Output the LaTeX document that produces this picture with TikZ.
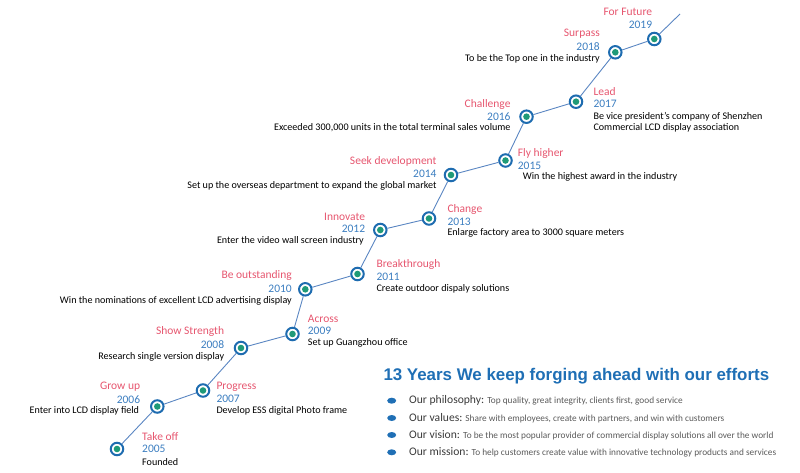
\documentclass[tikz,border=0pt]{standalone}
\usepackage{fontspec}
\setmainfont{Carlito}
\newfontfamily\arialfont{Liberation Sans}
\definecolor{ringblue}{HTML}{1E6CB0}
\definecolor{dotgreen}{HTML}{1F9A78}
\definecolor{linecol}{HTML}{5A86C2}
\definecolor{ttlcol}{HTML}{E6566F}
\definecolor{yrcol}{HTML}{3C7EC0}
\definecolor{headblue}{HTML}{1F6FB5}
\definecolor{labgray}{HTML}{3A3A3A}
\definecolor{dscgray}{HTML}{5A5A5A}
\tikzset{
  dot/.style={circle, draw=ringblue, line width=2pt, fill=white, minimum size=12.5pt, inner sep=0pt,
    path picture={\fill[dotgreen] (path picture bounding box.center) circle (3.3pt);}},
  ttl/.style={inner sep=0pt, text=ttlcol, font=\fontsize{11.5}{12}\selectfont},
  yr/.style={inner sep=0pt, text=yrcol, font=\fontsize{11.5}{12}\selectfont},
  dsc/.style={inner sep=0pt, text=black, font=\fontsize{10.1}{11}\selectfont},
  tline/.style={draw=linecol, line width=0.9pt},
  bullet/.style={ellipse, fill=headblue, minimum width=9pt, minimum height=6pt, inner sep=0pt},
  valline/.style={inner sep=0pt, anchor=west}
}
\usetikzlibrary{shapes.geometric}
\begin{document}
\begin{tikzpicture}[x=1pt,y=-1pt]
\useasboundingbox (0,0) rectangle (800,473);
% nodes
\node[dot] (n05) at (117,449) {};
\node[dot] (n06) at (157.3,406.5) {};
\node[dot] (n07) at (203,390.5) {};
\node[dot] (n08) at (241,348) {};
\node[dot] (n09) at (292.5,334) {};
\node[dot] (n10) at (305.3,289.3) {};
\node[dot] (n11) at (357.5,274) {};
\node[dot] (n12) at (380.3,230) {};
\node[dot] (n13) at (429,218.5) {};
\node[dot] (n14) at (451,175) {};
\node[dot] (n15) at (505.5,160.5) {};
\node[dot] (n16) at (526.5,116.7) {};
\node[dot] (n17) at (576,101.7) {};
\node[dot] (n18) at (615.3,52.3) {};
\node[dot] (n19) at (654.3,39) {};
\coordinate (tend) at (680,14);
\draw[tline] (n05) -- (n06);
\draw[tline] (n06) -- (n07);
\draw[tline] (n07) -- (n08);
\draw[tline] (n08) -- (n09);
\draw[tline] (n09) -- (n10);
\draw[tline] (n10) -- (n11);
\draw[tline] (n11) -- (n12);
\draw[tline] (n12) -- (n13);
\draw[tline] (n13) -- (n14);
\draw[tline] (n14) -- (n15);
\draw[tline] (n15) -- (n16);
\draw[tline] (n16) -- (n17);
\draw[tline] (n17) -- (n18);
\draw[tline] (n18) -- (n19);
\draw[tline] (n19) -- (tend);
% right-side labels
\node[ttl,anchor=west] (t05) at (142,436.7) {Take off};
\node[yr,anchor=west] (y05) at (142,449.3) {2005};
\node[dsc,anchor=west] (d05) at (142,462) {Founded};
\node[ttl,anchor=west] (t07) at (216.3,386.3) {Progress};
\node[yr,anchor=west] (y07) at (216.3,399) {2007};
\node[dsc,anchor=west] (d07) at (216.3,411) {Develop ESS digital Photo frame};
\node[ttl,anchor=west] (t09) at (307.7,318.7) {Across};
\node[yr,anchor=west] (y09) at (307.7,330.7) {2009};
\node[dsc,anchor=west] (d09) at (307.7,343.3) {Set up Guangzhou office};
\node[ttl,anchor=west] (t11) at (376.3,264.3) {Breakthrough};
\node[yr,anchor=west] (y11) at (376.3,277.3) {2011};
\node[dsc,anchor=west] (d11) at (376.3,289.3) {Create outdoor dispaly solutions};
\node[ttl,anchor=west] (t13) at (447.3,209) {Change};
\node[yr,anchor=west] (y13) at (447.3,221.7) {2013};
\node[dsc,anchor=west] (d13) at (447.3,233.3) {Enlarge factory area to 3000 square meters};
\node[ttl,anchor=west] (t15) at (517.7,153.3) {Fly higher};
\node[yr,anchor=west] (y15) at (517.7,166) {2015};
\node[dsc,anchor=west] (d15) at (522.7,176.7) {Win the highest award in the industry};
\node[ttl,anchor=west] (t17) at (593.3,91.7) {Lead};
\node[yr,anchor=west] (y17) at (593.3,104.3) {2017};
\node[dsc,anchor=west] (d17a) at (593.3,116.7) {Be vice president’s company of Shenzhen};
\node[dsc,anchor=west] (d17b) at (593.3,128.3) {Commercial LCD display association};
% left-side labels
\node[ttl,anchor=east] (t06) at (140.3,387) {Grow up};
\node[yr,anchor=east] (y06) at (140.3,400) {2006};
\node[dsc,anchor=east] (d06) at (139.3,411) {Enter into LCD display field};
\node[ttl,anchor=east] (t08) at (224.3,331.7) {Show Strength};
\node[yr,anchor=east] (y08) at (224.3,345) {2008};
\node[dsc,anchor=east] (d08) at (224.3,356.7) {Research single version display};
\node[ttl,anchor=east] (t10) at (292,275.7) {Be outstanding};
\node[yr,anchor=east] (y10) at (292,289.3) {2010};
\node[dsc,anchor=east] (d10) at (292,301.3) {Win the nominations of excellent LCD advertising display};
\node[ttl,anchor=east] (t12) at (365.3,217.3) {Innovate};
\node[yr,anchor=east] (y12) at (365.3,229.3) {2012};
\node[dsc,anchor=east] (d12) at (364,241) {Enter the video wall screen industry};
\node[ttl,anchor=east] (t14) at (436.7,161.3) {Seek development};
\node[yr,anchor=east] (y14) at (436.7,174.3) {2014};
\node[dsc,anchor=east] (d14) at (436.7,186) {Set up the overseas department to expand the global market};
\node[ttl,anchor=east] (t16) at (510.7,104) {Challenge};
\node[yr,anchor=east] (y16) at (510.7,116.3) {2016};
\node[dsc,anchor=east] (d16) at (510.7,128) {Exceeded 300,000 units in the total terminal sales volume};
\node[ttl,anchor=east] (t18) at (600,33.3) {Surpass};
\node[yr,anchor=east] (y18) at (600,46.7) {2018};
\node[dsc,anchor=east] (d18) at (600,59.3) {To be the Top one in the industry};
\node[ttl,anchor=east] (t19) at (652.3,12.3) {For Future};
\node[yr,anchor=east] (y19) at (652.3,24.7) {2019};
% bottom block
\node[inner sep=0pt, anchor=west, text=headblue, font=\arialfont\bfseries\fontsize{16.9}{18}\selectfont] (head) at (383.3,375.7) {13 Years We keep forging ahead with our efforts};
\node[bullet] (b1) at (391.7,400.7) {};
\node[bullet] (b2) at (391.7,418) {};
\node[bullet] (b3) at (391.7,435) {};
\node[bullet] (b4) at (391.7,452.3) {};
\node[valline] (v1) at (409,400.7) {\textcolor{labgray}{\fontsize{11.6}{12}\selectfont Our philosophy:} \textcolor{dscgray}{\fontsize{9.3}{10}\selectfont Top quality, great integrity, clients first, good service}};
\node[valline] (v2) at (409,418) {\textcolor{labgray}{\fontsize{11.6}{12}\selectfont Our values:} \textcolor{dscgray}{\fontsize{9.3}{10}\selectfont Share with employees, create with partners, and win with customers}};
\node[valline] (v3) at (409,435) {\textcolor{labgray}{\fontsize{11.6}{12}\selectfont Our vision:} \textcolor{dscgray}{\fontsize{9.3}{10}\selectfont To be the most popular provider of commercial display solutions all over the world}};
\node[valline] (v4) at (409,452.3) {\textcolor{labgray}{\fontsize{11.6}{12}\selectfont Our mission:} \textcolor{dscgray}{\fontsize{9.3}{10}\selectfont To help customers create value with innovative technology products and services}};
\end{tikzpicture}
\end{document}
